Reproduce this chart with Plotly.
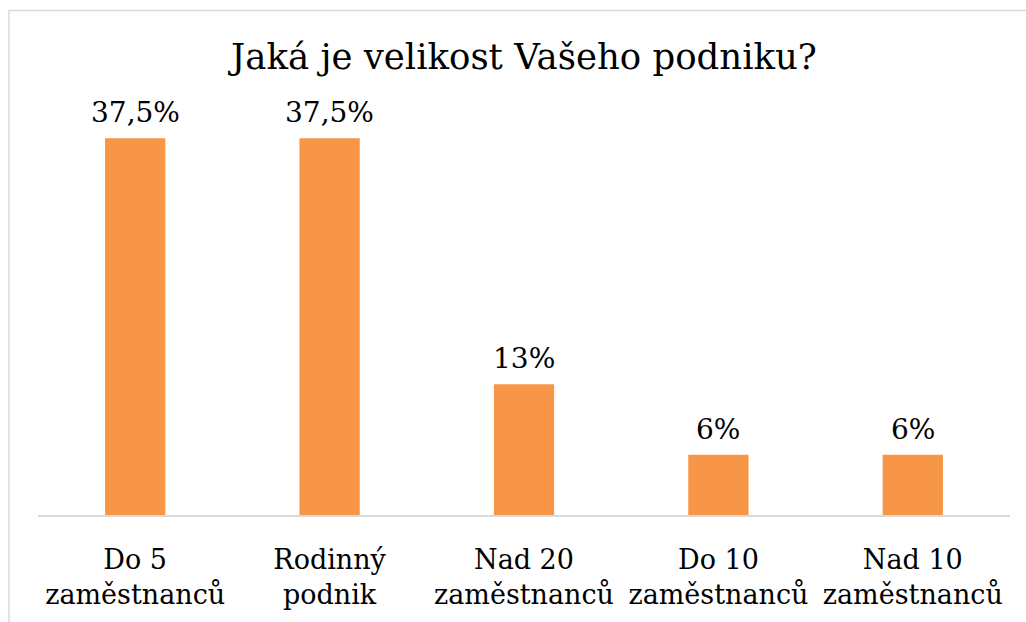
import plotly.graph_objects as go

categories = ["Do 5<br>zaměstnanců", "Rodinný<br>podnik", "Nad 20<br>zaměstnanců",
              "Do 10<br>zaměstnanců", "Nad 10<br>zaměstnanců"]
values = [37.5, 37.5, 13, 6, 6]
labels = ["37,5%", "37,5%", "13%", "6%", "6%"]
title_text = "Jaká je velikost Vašeho podniku?"

FONT = "DejaVu Serif"
W, H = 1026, 622
ml, mr, mt, mb = 38, 16, 113, 105
plot_h = H - mt - mb
plot_w = W - ml - mr

fig = go.Figure(go.Bar(
    x=categories, y=values,
    marker=dict(color="#F79646", line=dict(width=0)),
    hoverinfo="skip",
))

for c, v, t in zip(categories, values, labels):
    fig.add_annotation(x=c, y=v, text=t, showarrow=False,
                       xanchor="center", yanchor="bottom", yshift=7,
                       font=dict(family=FONT, size=28, color="#000000"))

# light gray chart border (cropped at right/bottom)
fig.add_shape(type="rect", xref="paper", yref="paper",
              x0=(9 - ml) / plot_w, x1=1.2,
              y0=-0.6, y1=(H - mb - 10) / plot_h,
              line=dict(color="#D9D9D9", width=1.5), layer="below")

fig.update_layout(
    width=W, height=H,
    margin=dict(l=ml, r=mr, t=mt, b=mb),
    paper_bgcolor="white", plot_bgcolor="white",
    bargap=0.69,
    showlegend=False,
    title=dict(text=title_text, x=0.5, xref="paper", xanchor="center",
               y=1 - 57 / H, yref="container", yanchor="middle",
               font=dict(family=FONT, size=35.5, color="#000000")),
    xaxis=dict(showline=True, linecolor="#D9D9D9", linewidth=1.5,
               showgrid=False, zeroline=False, ticks="",
               ticklabelstandoff=20,
               tickfont=dict(family=FONT, size=27, color="#000000")),
    yaxis=dict(range=[0, 40], visible=False, showgrid=False, zeroline=False),
)

fig.write_html("out.html", config={"displayModeBar": False, "staticPlot": True},
               post_script="document.body.style.margin='0';document.body.style.overflow='hidden';")
